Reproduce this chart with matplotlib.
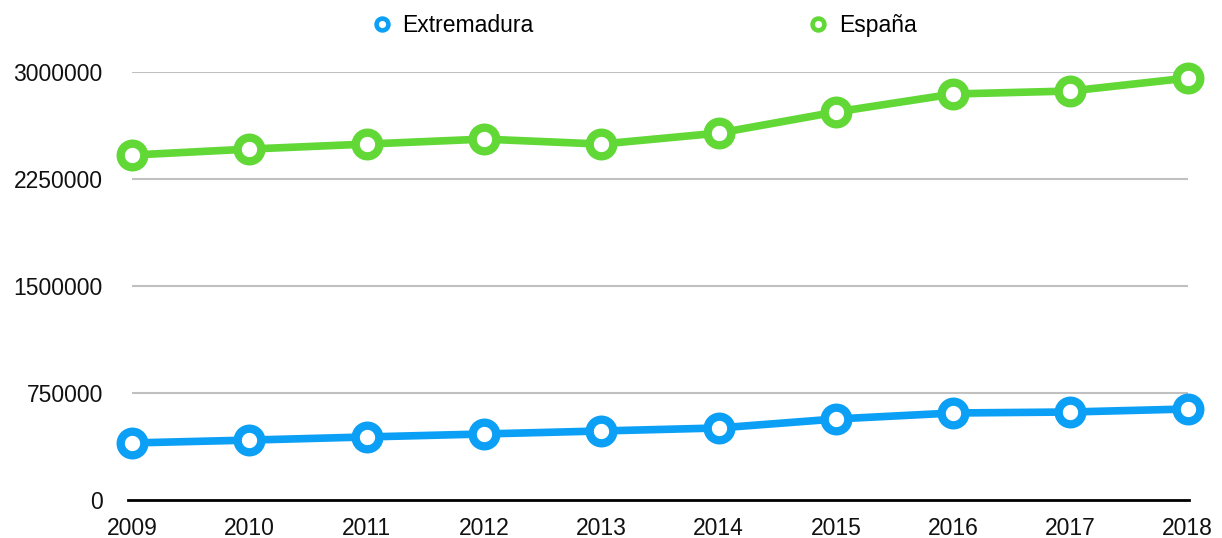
import matplotlib
matplotlib.use("Agg")
from matplotlib import pyplot as plt
from matplotlib.lines import Line2D

plt.rcParams["font.family"] = ["Liberation Sans", "DejaVu Sans"]

years = [2009, 2010, 2011, 2012, 2013, 2014, 2015, 2016, 2017, 2018]
extremadura = [400000, 420000, 442000, 463000, 484000, 505000, 568000, 610000, 617000, 638000]
espana = [2418000, 2460000, 2495000, 2530000, 2495000, 2572000, 2720000, 2846000, 2867000, 2958000]
y_ticks = [0, 750000, 1500000, 2250000, 3000000]

BLUE = "#0ba0f5"
GREEN = "#61d836"
FS = 16.5

fig = plt.figure(figsize=(12.22, 5.38), dpi=100)
ax = fig.add_axes([0.108, 0.0706, 0.864, 0.7955])

for vals, color in [(extremadura, BLUE), (espana, GREEN)]:
    ax.plot(
        years,
        vals,
        color=color,
        linewidth=5.5,
        marker="o",
        markersize=17,
        markeredgewidth=6,
        markerfacecolor="white",
        markeredgecolor=color,
        clip_on=False,
        zorder=3,
    )

ax.set_xlim(years[0], years[-1])
ax.set_ylim(0, 3000000)
ax.set_yticks(y_ticks)
ax.set_yticklabels([str(t) for t in y_ticks])
ax.set_xticks(years)
ax.set_xticklabels([str(y) for y in years])
ax.tick_params(axis="both", length=0, labelsize=FS, colors="#111111")
ax.tick_params(axis="y", pad=21)
ax.tick_params(axis="x", pad=12)

for t in y_ticks[1:]:
    ax.axhline(t, color="#c0c0c0", linewidth=1.5, zorder=1)
ax.axhline(0, xmin=-0.004, xmax=1.001, color="black", linewidth=2, zorder=2, clip_on=False)

for s in ax.spines.values():
    s.set_visible(False)

handles = [
    Line2D([], [], color=c, marker="o", linestyle="none", markersize=8.5,
           markeredgewidth=3.3, markerfacecolor="white", markeredgecolor=c)
    for c in (BLUE, GREEN)
]
fig.legend(
    handles,
    ["Extremadura", "España"],
    loc="upper center",
    bbox_to_anchor=(0.5275, 1.013),
    ncol=2,
    frameon=False,
    fontsize=FS,
    handlelength=0.8,
    handletextpad=0.5,
    columnspacing=12.0,
)

fig.savefig("out.png", dpi=100)
